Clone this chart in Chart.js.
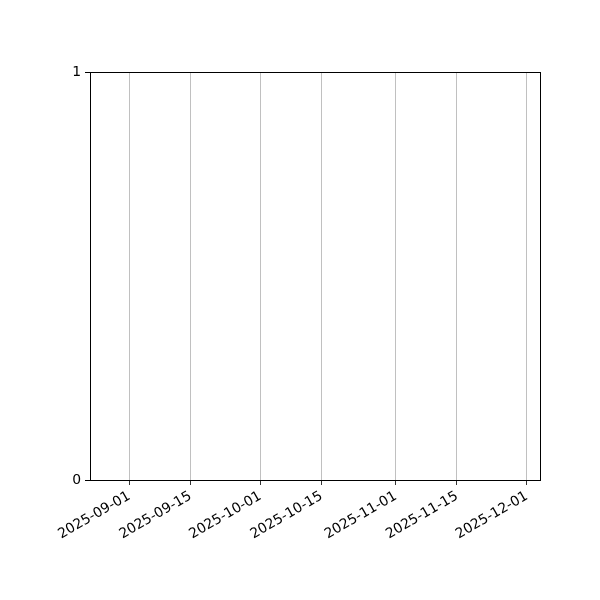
<!DOCTYPE html>
<html>
<head>
<meta charset="utf-8">
<script src="https://cdn.jsdelivr.net/npm/chart.js@4"></script>
<style>
  html, body { margin: 0; padding: 0; background: #fff; }
  #wrap { width: 600px; height: 600px; }
</style>
</head>
<body>
<div id="wrap"><canvas id="myChart"></canvas></div>
<script>
const ctx = document.getElementById("myChart").getContext("2d");

// Data (the reference plot holds no points)
const tickDates = ["2025-09-01", "2025-09-15", "2025-10-01", "2025-10-15", "2025-11-01", "2025-11-15", "2025-12-01"];
const xRange = ["2025-08-23", "2025-12-04"];
const yTicks = [0, 1];
const seriesValues = [];

const DAY = 86400000;
const toDay = (s) => Date.parse(s) / DAY;
const tickValues = tickDates.map(toDay);

const font = { family: "DejaVu Sans", size: 13.9 };

// full black frame round the plot, like matplotlib spines
const boxPlugin = {
  id: "box",
  afterDraw(chart) {
    const a = chart.chartArea;
    const c = chart.ctx;
    const l = Math.round(a.left) + 0.5;
    const t = Math.round(a.top) + 0.5;
    const r = Math.round(a.right) + 0.5;
    const b = Math.round(a.bottom) + 0.5;
    c.save();
    c.strokeStyle = "#000";
    c.lineWidth = 1;
    c.strokeRect(l, t, r - l, b - t);
    c.restore();
  },
};

const config = {
  type: "line",
  data: {
    datasets: [
      {
        data: seriesValues,
        borderColor: "#1f77b4",
      },
    ],
  },
  options: {
    responsive: true,
    maintainAspectRatio: false,
    animation: false,
    layout: { padding: { left: 0, top: 72, right: 60, bottom: 0 } },
    plugins: { legend: { display: false }, tooltip: { enabled: false } },
    scales: {
      x: {
        type: "linear",
        min: toDay(xRange[0]),
        max: toDay(xRange[1]),
        afterBuildTicks: (scale) => {
          scale.ticks = tickValues.map((v) => ({ value: v }));
        },
        afterFit: (scale) => {
          scale.height = 120;
        },
        grid: {
          color: "#b0b0b0",
          lineWidth: 0.8,
          tickColor: "#000",
          tickLength: 5,
        },
        border: { display: false },
        ticks: {
          autoSkip: false,
          minRotation: 30,
          maxRotation: 30,
          padding: 3,
          color: "#000",
          font,
          callback: (value) => {
            const i = tickValues.indexOf(value);
            return i >= 0 ? tickDates[i] : "";
          },
        },
      },
      y: {
        min: 0,
        max: 1,
        afterBuildTicks: (scale) => {
          scale.ticks = yTicks.map((v) => ({ value: v }));
        },
        afterFit: (scale) => {
          scale.width = 90;
        },
        grid: {
          drawOnChartArea: false,
          tickColor: "#000",
          tickLength: 5,
        },
        border: { display: false },
        ticks: {
          padding: 4,
          color: "#000",
          font,
          callback: (value) => "" + value,
        },
      },
    },
  },
  plugins: [boxPlugin],
};

const myChart = new Chart(ctx, config);
</script>
</body>
</html>
